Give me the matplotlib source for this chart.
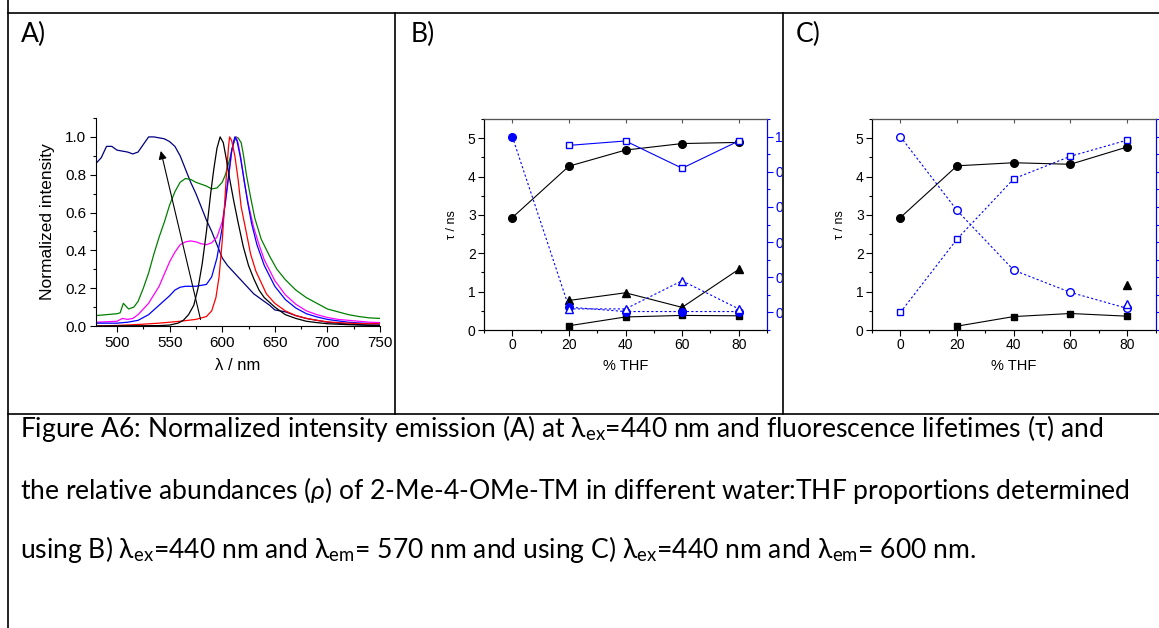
import matplotlib
matplotlib.use('Agg')
import matplotlib.pyplot as plt
import numpy as np
from matplotlib.lines import Line2D
from matplotlib.ticker import MultipleLocator, FormatStrFormatter
from matplotlib.transforms import Bbox, TransformedBbox

plt.rcParams['font.family'] = ['Liberation Sans', 'DejaVu Sans']
plt.rcParams['mathtext.fontset'] = 'custom'
plt.rcParams['mathtext.rm'] = 'Lato'
plt.rcParams['mathtext.it'] = 'Lato:italic'

# ---- panel A: normalized emission spectra ----
navy_wl = [480, 485, 490, 495, 500, 505, 510, 515, 520, 525, 530, 535, 540, 545, 550, 555, 560, 565,
           570, 575, 580, 585, 590, 595, 600, 605, 610, 615, 620, 625, 630, 635, 640, 645, 650,
           660, 670, 680, 690, 700, 710, 720, 730, 740, 750]
navy_I = [0.86, 0.89, 0.95, 0.95, 0.93, 0.925, 0.92, 0.91, 0.92, 0.96, 1.0, 1.0, 0.995, 0.99, 0.975,
          0.95, 0.9, 0.83, 0.76, 0.70, 0.63, 0.56, 0.50, 0.43, 0.36, 0.32, 0.29, 0.26, 0.23, 0.20,
          0.17, 0.15, 0.13, 0.11, 0.085, 0.075, 0.055, 0.04, 0.03, 0.02, 0.015, 0.01, 0.007, 0.004, 0.003]

green_wl = [480, 490, 500, 503, 506, 511, 516, 520, 525, 530, 535, 540, 545, 550, 555, 560, 565, 570,
            575, 580, 585, 590, 595, 600, 603, 607, 610, 613, 615, 618, 620, 623, 627, 631, 637, 645,
            652, 660, 670, 680, 690, 700, 710, 720, 730, 740, 750]
green_I = [0.055, 0.06, 0.065, 0.07, 0.12, 0.09, 0.10, 0.13, 0.20, 0.28, 0.38, 0.47, 0.55, 0.64, 0.71,
           0.76, 0.78, 0.775, 0.76, 0.75, 0.74, 0.725, 0.73, 0.76, 0.80, 0.88, 0.95, 1.0, 0.995, 0.97,
           0.91, 0.80, 0.68, 0.57, 0.46, 0.37, 0.30, 0.245, 0.19, 0.15, 0.12, 0.09, 0.075, 0.06, 0.05,
           0.043, 0.04]

magenta_wl = [480, 500, 505, 510, 515, 520, 530, 540, 550, 555, 560, 565, 570, 575, 580, 585, 590, 595,
              600, 603, 606, 609, 611, 613, 615, 618, 621, 625, 630, 635, 640, 650, 660, 670, 680, 690,
              700, 710, 720, 730, 740, 750]
magenta_I = [0.02, 0.025, 0.04, 0.035, 0.04, 0.06, 0.12, 0.21, 0.34, 0.39, 0.43, 0.445, 0.45, 0.445,
             0.435, 0.43, 0.44, 0.47, 0.55, 0.65, 0.78, 0.92, 0.98, 1.0, 0.97, 0.88, 0.76, 0.64, 0.52,
             0.43, 0.35, 0.24, 0.165, 0.115, 0.08, 0.06, 0.045, 0.035, 0.03, 0.025, 0.02, 0.018]

blue_wl = [480, 500, 510, 520, 530, 540, 550, 555, 560, 565, 570, 575, 580, 585, 590, 595, 600, 605,
           609, 612, 614, 617, 620, 624, 628, 633, 640, 650, 660, 670, 680, 690, 700, 710, 720, 730,
           740, 750]
blue_I = [0.015, 0.015, 0.02, 0.03, 0.06, 0.11, 0.16, 0.19, 0.205, 0.21, 0.21, 0.21, 0.215, 0.22, 0.26,
          0.36, 0.52, 0.75, 0.93, 1.0, 0.98, 0.90, 0.80, 0.66, 0.54, 0.43, 0.32, 0.21, 0.14, 0.095,
          0.065, 0.048, 0.035, 0.027, 0.02, 0.016, 0.013, 0.011]

red_wl = [480, 500, 520, 540, 560, 575, 585, 590, 594, 597, 600, 602, 604, 606, 607, 609, 612, 615,
          618, 622, 627, 632, 637, 642, 650, 660, 670, 680, 690, 700, 710, 720, 730, 740, 750]
red_I = [0.0, 0.003, 0.008, 0.015, 0.025, 0.035, 0.05, 0.08, 0.15, 0.26, 0.45, 0.62, 0.80, 0.95, 1.0,
         0.98, 0.90, 0.78, 0.63, 0.52, 0.38, 0.29, 0.23, 0.17, 0.12, 0.08, 0.055, 0.04, 0.03, 0.022,
         0.018, 0.015, 0.013, 0.012, 0.012]

black_wl = [480, 540, 550, 558, 563, 568, 573, 577, 581, 585, 589, 592, 595, 598, 601, 604, 607, 611,
            615, 620, 625, 630, 635, 640, 650, 660, 670, 680, 690, 700, 720, 740, 750]
black_I = [0.0, 0.002, 0.005, 0.015, 0.03, 0.06, 0.11, 0.2, 0.33, 0.5, 0.7, 0.83, 0.94, 1.0, 0.97,
           0.88, 0.78, 0.66, 0.55, 0.42, 0.32, 0.25, 0.19, 0.15, 0.10, 0.06, 0.04, 0.025, 0.018,
           0.012, 0.007, 0.004, 0.003]

# arrow drawn across the spectra (start / end in data units)
arrow_from = (580, 0.02)
arrow_to = (541, 0.94)

# ---- panels B and C: lifetimes (left) and abundances (right) ----
thf = [0, 20, 40, 60, 80]
nan = np.nan

B_tau_long = [2.93, 4.27, 4.69, 4.86, 4.89]
B_tau_mid = [nan, 0.77, 0.97, 0.59, 1.58]
B_tau_short = [nan, 0.11, 0.34, 0.38, 0.37]
B_rho_long = [1.0, 0.03, 0.005, 0.005, 0.005]
B_rho_mid = [nan, 0.02, 0.02, 0.18, 0.02]
B_rho_short = [nan, 0.95, 0.975, 0.82, 0.975]

C_tau_long = [2.93, 4.28, 4.36, 4.32, 4.77]
C_tau_mid = [nan, nan, nan, nan, 1.17]
C_tau_short = [nan, 0.10, 0.35, 0.43, 0.36]
C_rho_long = [1.0, 0.58, 0.24, 0.114, 0.023]
C_rho_mid = [nan, nan, nan, nan, 0.047]
C_rho_short = [0.0, 0.417, 0.76, 0.888, 0.98]

caption = [
    r'Figure A6: Normalized intensity emission (A) at λ$_{\mathrm{ex}}$=440 nm and fluorescence lifetimes (τ) and',
    r'the relative abundances ($\rho$) of 2-Me-4-OMe-TM in different water:THF proportions determined',
    r'using B) λ$_{\mathrm{ex}}$=440 nm and λ$_{\mathrm{em}}$= 570 nm and using C) λ$_{\mathrm{ex}}$=440 nm and λ$_{\mathrm{em}}$= 600 nm.',
]

W, H = 1159, 628
fig = plt.figure(figsize=(W / 100, H / 100), dpi=100)


def fx(px):
    return px / W


def fy(py):
    return 1 - py / H


def rect(l, t, r, b):
    return [fx(l), fy(b), fx(r) - fx(l), fy(t) - fy(b)]


# table borders
def seg(x0, y0, x1, y1):
    fig.add_artist(Line2D([fx(x0), fx(x1)], [fy(y0), fy(y1)], transform=fig.transFigure,
                          color='black', lw=1.2))


seg(7.5, 13, W, 13)
seg(7.5, 414, W, 414)
seg(7.5, 0, 7.5, H)
seg(395, 13, 395, 414)
seg(783, 13, 783, 414)

# panel A
axA = fig.add_axes(rect(96, 118, 380, 326))
spectra = [(navy_wl, navy_I, '#000080'), (green_wl, green_I, '#008000'),
           (magenta_wl, magenta_I, '#ff00ff'), (blue_wl, blue_I, '#0000ff'),
           (red_wl, red_I, '#ff0000'), (black_wl, black_I, 'black')]
for wl, inten, col in spectra:
    axA.plot(wl, inten, color=col, lw=0.9)
axA.annotate('', xy=arrow_to, xytext=arrow_from,
             arrowprops=dict(arrowstyle='-|>', color='black', lw=0.8, mutation_scale=12))
axA.set_xlim(480, 750)
axA.set_ylim(0, 1.1)
axA.spines['top'].set_visible(False)
axA.spines['right'].set_visible(False)
axA.xaxis.set_major_locator(MultipleLocator(50))
axA.xaxis.set_minor_locator(MultipleLocator(25))
axA.yaxis.set_major_locator(MultipleLocator(0.2))
axA.yaxis.set_minor_locator(MultipleLocator(0.1))
axA.yaxis.set_major_formatter(FormatStrFormatter('%.1f'))
axA.tick_params(which='major', direction='out', length=4, width=0.8, labelsize=11, pad=3)
axA.tick_params(which='minor', direction='out', length=2, width=0.8)
axA.set_xlabel('λ / nm', fontsize=12, labelpad=6)
axA.set_ylabel('Normalized intensity', fontsize=12.5, labelpad=7)


def tau_panel(box, tau, rho, rho_style, rho_fill, show_right):
    ax = fig.add_axes(box)
    ax2 = ax.twinx()
    t_long, t_mid, t_short = tau
    r_long, r_mid, r_short = rho
    ax.plot(thf, t_long, color='black', lw=0.8, marker='o', ms=5.5)
    ax.plot(thf, t_mid, color='black', lw=0.8, marker='^', ms=6)
    ax.plot(thf, t_short, color='black', lw=0.8, marker='s', ms=5)
    dot = (0, (2, 2))
    ls_long, ls_short = rho_style
    ax2.plot(thf, r_long, color='blue', lw=0.8, ls=ls_long, marker='o', ms=5.5,
             mfc=rho_fill, mec='blue')
    ax2.plot(thf, r_mid, color='blue', lw=0.8, ls=dot, marker='^', ms=6, mfc='white', mec='blue')
    ax2.plot(thf, r_short, color='blue', lw=0.8, ls=ls_short, marker='s', ms=5,
             mfc='white', mec='blue')
    ax.set_xlim(-10, 90)
    ax.set_ylim(0, 5.5)
    ax2.set_ylim(-0.1, 1.1)
    ax.xaxis.set_major_locator(MultipleLocator(20))
    ax.xaxis.set_minor_locator(MultipleLocator(10))
    ax.yaxis.set_major_locator(MultipleLocator(1))
    ax.yaxis.set_minor_locator(MultipleLocator(0.5))
    ax2.yaxis.set_major_locator(MultipleLocator(0.2))
    ax2.yaxis.set_minor_locator(MultipleLocator(0.1))
    ax2.yaxis.set_major_formatter(FormatStrFormatter('%.1f'))
    for a in (ax, ax2):
        for s in a.spines.values():
            s.set_linewidth(0.8)
    ax.spines['top'].set_color('#555555')
    ax2.spines['top'].set_color('#555555')
    ax2.spines['right'].set_color('blue')
    ax.tick_params(which='major', direction='out', length=4, width=0.8, labelsize=10, pad=2)
    ax.tick_params(which='minor', direction='out', length=2, width=0.8)
    ax2.tick_params(which='major', direction='out', length=4, width=0.8, labelsize=10, pad=2,
                    colors='blue', labelright=show_right)
    ax2.tick_params(which='minor', direction='out', length=2, width=0.8, colors='blue')
    top = ax.secondary_xaxis('top')
    top.xaxis.set_major_locator(MultipleLocator(20))
    top.tick_params(direction='in', length=3, width=0.8, labeltop=False, color='#555555')
    top.spines['top'].set_color('#555555')
    ax.set_xlabel('% THF', fontsize=10.5, labelpad=5)
    ax.set_ylabel('τ / ns', fontsize=9, labelpad=7)
    return ax, ax2


axB, axB2 = tau_panel(rect(484, 119, 767, 330), (B_tau_long, B_tau_mid, B_tau_short),
                      (B_rho_long, B_rho_mid, B_rho_short), ((0, (2, 2)), '-'), 'blue', True)
# panel C's right-hand labels fall outside the picture in the original
axC, axC2 = tau_panel(rect(872, 119, 1155.5, 330), (C_tau_long, C_tau_mid, C_tau_short),
                      (C_rho_long, C_rho_mid, C_rho_short), ((0, (2, 2)), (0, (2, 2))), 'white',
                      False)

# panel letters and caption
cap_font = ['Lato', 'DejaVu Sans']
labels = [fig.text(fx(21), fy(42), 'A)', fontsize=16, family=cap_font, va='baseline'),
          fig.text(fx(411), fy(42), 'B)', fontsize=16, family=cap_font, va='baseline'),
          fig.text(fx(796), fy(42), 'C)', fontsize=16, family=cap_font, va='baseline')]
baselines = [437, 499, 558]
cap_texts = [fig.text(fx(20), fy(b), s, fontsize=16, family=cap_font, va='baseline')
             for s, b in zip(caption, baselines)]

fig.canvas.draw()
renderer = fig.canvas.get_renderer()
w1 = cap_texts[0].get_window_extent(renderer).width
w2 = cap_texts[1].get_window_extent(renderer).width
size = 16 * (1062 + 1132) / (w1 + w2)
for t in cap_texts + labels:
    t.set_fontsize(size)

# right-axis labels of panel B are cut by the table cell border
clip = TransformedBbox(Bbox([[0, 0], [fx(782), 1]]), fig.transFigure)
for lab in axB2.get_yticklabels():
    lab.set_clip_box(clip)
    lab.set_clip_on(True)

fig.savefig('out.png', dpi=100)
